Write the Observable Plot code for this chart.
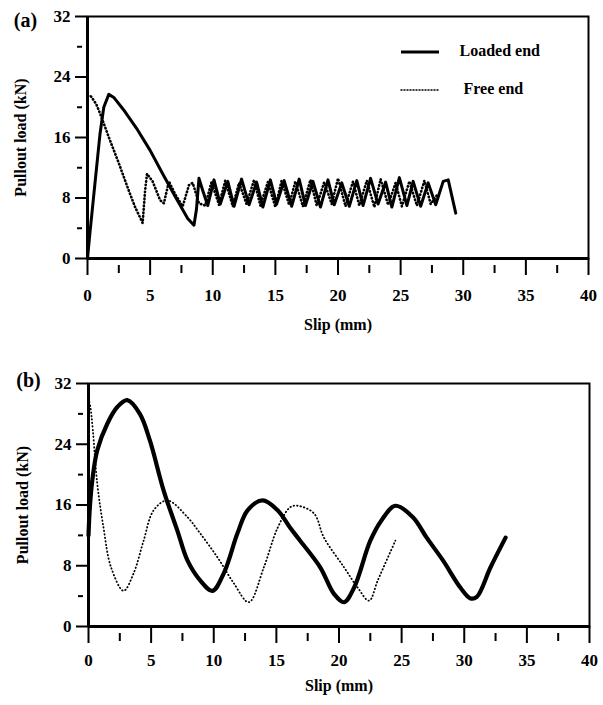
<!DOCTYPE html>
<html>
<head>
<meta charset="utf-8">
<script src="https://cdn.jsdelivr.net/npm/d3@7"></script>
<script src="https://cdn.jsdelivr.net/npm/@observablehq/plot@0.6"></script>
<style>
  html, body { margin: 0; padding: 0; background: #fff; }
  #wrap { width: 603px; }
  svg { display: block; }
</style>
</head>
<body>
<div id="wrap"></div>
<script>
// ---------- data ----------
const xMajorTicks = [0, 5, 10, 15, 20, 25, 30, 35, 40];
const xMinorTicks = [2.5, 7.5, 12.5, 17.5, 22.5, 27.5, 32.5, 37.5];
const yMajorTicks = [0, 8, 16, 24, 32];
const yMinorTicks = [4, 12, 20, 28];
const seriesNames = ["Loaded end", "Free end"];
const xLabel = "Slip (mm)";
const yLabel = "Pullout load (kN)";
const panelLabels = ["(a)", "(b)"];

// Panel (a) – loaded end
const aLoadedSlip = [0, 0.2, 0.6, 1.0, 1.3, 1.7, 2.1, 3.0, 4.0, 5.0, 6.0, 7.0, 8.0, 8.5, 8.7, 8.9, 9.2, 9.6, 10.1, 10.6, 11.2, 11.7, 12.3, 12.9, 13.5, 14.0, 14.6, 15.1, 15.7, 16.3, 16.9, 17.4, 18.0, 18.6, 19.2, 19.7, 20.3, 20.9, 21.5, 22.0, 22.6, 23.2, 23.8, 24.3, 24.9, 25.5, 26.0, 26.6, 27.2, 27.8, 28.4, 28.8, 29.4];
const aLoadedLoad = [0, 3.5, 10, 16.5, 20, 21.7, 21.3, 19.4, 17.0, 14.3, 11.2, 8.2, 5.3, 4.4, 6.5, 10.6, 9.0, 7.0, 10.4, 7.2, 10.2, 6.9, 10.5, 7.1, 10.1, 6.8, 10.4, 7.2, 10.3, 6.9, 10.5, 7.0, 10.2, 6.8, 10.4, 7.1, 10.0, 6.9, 10.3, 7.0, 10.6, 7.2, 10.1, 6.8, 10.7, 7.0, 10.2, 6.9, 10.0, 7.1, 10.2, 10.4, 6.0];
// Panel (a) – free end
const aFreeSlip = [0, 0.3, 0.7, 1.0, 1.8, 2.5, 3.2, 3.8, 4.4, 4.6, 4.75, 5.2, 5.8, 6.1, 6.5, 7.0, 7.6, 8.1, 8.4, 8.9, 9.4, 9.9, 10.5, 11.0, 11.6, 12.1, 12.7, 13.3, 13.8, 14.4, 15.0, 15.5, 16.1, 16.6, 17.2, 17.8, 18.3, 18.9, 19.5, 20.0, 20.6, 21.2, 21.7, 22.3, 22.9, 23.4, 24.0, 24.6, 25.1, 25.7, 26.3, 26.9, 27.4, 28.0];
const aFreeLoad = [21.6, 21.4, 20.4, 19.2, 15.6, 12.6, 9.4, 6.8, 4.7, 9.0, 11.2, 10.2, 7.7, 7.3, 10.2, 8.5, 6.9, 9.7, 10.0, 7.3, 7.0, 10.1, 7.1, 10.3, 6.9, 10.0, 7.2, 10.4, 7.0, 10.1, 6.8, 10.3, 7.1, 10.2, 6.9, 10.4, 7.0, 10.1, 7.2, 10.6, 6.9, 10.2, 7.0, 10.3, 6.8, 10.5, 7.1, 10.0, 6.9, 10.2, 7.0, 10.3, 7.2, 8.6];

// Panel (b) – loaded end
const bLoadedSlip = [0, 0.1, 0.3, 0.7, 1.5, 2.3, 3.1, 4.1, 4.9, 6.0, 7.1, 7.9, 8.9, 9.9, 10.8, 11.9, 12.7, 13.9, 15.1, 16.1, 16.9, 18.5, 19.6, 20.4, 21.2, 22.5, 23.4, 24.5, 25.9, 27.0, 28.3, 29.7, 30.5, 31.0, 32.1, 33.3];
const bLoadedLoad = [12, 15.5, 19.2, 23.2, 26.7, 28.9, 29.8, 28.0, 24.5, 17.9, 12.6, 8.7, 6.1, 4.7, 7.0, 12.3, 15.3, 16.6, 15.3, 13.0, 11.3, 7.8, 4.3, 3.2, 5.1, 11.3, 14.0, 15.9, 14.4, 11.7, 8.7, 5.1, 3.7, 3.9, 7.8, 11.7];
// Panel (b) – free end
const bFreeSlip = [0, 0.15, 0.35, 0.7, 1.2, 1.8, 2.8, 3.6, 4.4, 5.2, 6.3, 7.9, 8.9, 10.3, 11.6, 12.8, 14.0, 15.1, 16.1, 16.7, 18.0, 18.8, 20.4, 21.5, 22.4, 23.1, 24.5];
const bFreeLoad = [30, 28.9, 25.8, 18.8, 13.0, 7.8, 4.7, 7.0, 11.3, 15.3, 16.6, 14.4, 12.3, 9.1, 5.7, 3.2, 7.8, 13.0, 15.7, 15.9, 14.9, 11.7, 7.8, 5.1, 3.4, 6.1, 11.3];

// ---------- helpers ----------
const FONT = "'Liberation Serif', 'Times New Roman', serif";
const zipSeries = (xs, ys, name) => xs.map((x, i) => ({slip: x, load: ys[i], series: name}));

function panel({loaded, free, label, height, marginTop, marginBottom, marginLeft, marginRight,
                loadedWidth, freeWidth, freeDash, curve, yLabelDx, labelDx, labelDy, xLabelDy, xTickPad, legend}) {
  const marks = [
    Plot.frame({stroke: "#000", strokeWidth: 2}),
    Plot.ruleY([0], {stroke: "#000", strokeWidth: 3}),
    Plot.ruleX([0], {stroke: "#000", strokeWidth: 3}),
    Plot.axisX(xMajorTicks, {tickSize: 17, tickPadding: xTickPad, strokeWidth: 2, fontSize: 17, fontWeight: "bold", label: null}),
    Plot.axisX(xMinorTicks, {tickSize: 8, strokeWidth: 2, text: null, dy: 7, label: null}),
    Plot.axisY(yMajorTicks, {tickSize: 12, tickPadding: 5, strokeWidth: 2, fontSize: 17, fontWeight: "bold", label: null}),
    Plot.axisY(yMinorTicks, {tickSize: 5, strokeWidth: 2, text: null, dx: -5, label: null}),
    Plot.line(free, {x: "slip", y: "load", stroke: "#000", strokeWidth: freeWidth, strokeDasharray: freeDash, strokeLinecap: "round", curve}),
    Plot.line(loaded, {x: "slip", y: "load", stroke: "#000", strokeWidth: loadedWidth, strokeLinejoin: "round", curve}),
    Plot.text([xLabel], {frameAnchor: "bottom", textAnchor: "middle", lineAnchor: "middle", dy: xLabelDy, fontSize: 16, fontWeight: "bold"}),
    Plot.text([yLabel], {frameAnchor: "left", textAnchor: "middle", lineAnchor: "middle", rotate: -90, dx: yLabelDx, fontSize: 16, fontWeight: "bold"}),
    Plot.text([label], {frameAnchor: "top-left", textAnchor: "middle", lineAnchor: "middle", dx: labelDx, dy: labelDy, fontSize: 20, fontWeight: "bold"})
  ];
  if (legend) {
    marks.push(Plot.text([seriesNames[0]], {frameAnchor: "top-right", textAnchor: "start", lineAnchor: "middle", dx: -129, dy: 34, fontSize: 16, fontWeight: "bold"}));
    marks.push(Plot.text([seriesNames[1]], {frameAnchor: "top-right", textAnchor: "start", lineAnchor: "middle", dx: -125, dy: 72, fontSize: 16, fontWeight: "bold"}));
  }
  const chart = Plot.plot({
    width: 603, height, marginTop, marginBottom, marginLeft, marginRight,
    style: {fontFamily: FONT, color: "#000", background: "#fff", overflow: "visible"},
    x: {domain: [0, 40], axis: null},
    y: {domain: [0, 32], axis: null},
    marks
  });
  if (legend) {
    const svg = d3.select(chart);
    const right = 603 - marginRight, top = marginTop;
    svg.append("line").attr("x1", right - 187).attr("x2", right - 149)
      .attr("y1", top + 36).attr("y2", top + 36).attr("stroke", "#000").attr("stroke-width", 3);
    svg.append("line").attr("x1", right - 187).attr("x2", right - 149)
      .attr("y1", top + 74).attr("y2", top + 74).attr("stroke", "#000").attr("stroke-width", 1.5)
      .attr("stroke-dasharray", "1,2").attr("stroke-linecap", "round");
  }
  return chart;
}

const wrap = document.getElementById("wrap");
wrap.appendChild(panel({
  loaded: zipSeries(aLoadedSlip, aLoadedLoad, seriesNames[0]),
  free: zipSeries(aFreeSlip, aFreeLoad, seriesNames[1]),
  label: panelLabels[0], height: 340, marginTop: 16, marginBottom: 82, marginLeft: 87, marginRight: 15,
  loadedWidth: 3, freeWidth: 2.6, freeDash: "0.5,3", curve: "linear",
  yLabelDx: -67, labelDx: -62, labelDy: 4, xLabelDy: 66, xTickPad: 13, legend: true
}));
wrap.appendChild(panel({
  loaded: zipSeries(bLoadedSlip, bLoadedLoad, seriesNames[0]),
  free: zipSeries(bFreeSlip, bFreeLoad, seriesNames[1]),
  label: panelLabels[1], height: 365, marginTop: 43, marginBottom: 79, marginLeft: 88, marginRight: 14,
  loadedWidth: 4.2, freeWidth: 1.8, freeDash: "0.5,3", curve: "catmull-rom",
  yLabelDx: -66, labelDx: -60, labelDy: -3, xLabelDy: 59, xTickPad: 10, legend: false
}));
</script>
</body>
</html>
